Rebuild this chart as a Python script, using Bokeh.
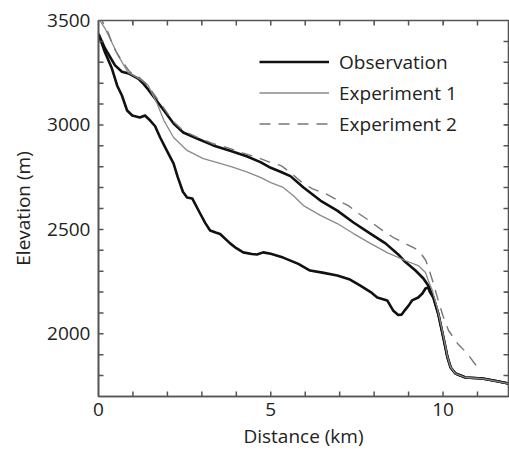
from bokeh.plotting import figure
from bokeh.models import Legend, LegendItem, Range1d, FixedTicker, LinearAxis
from bokeh.embed import file_html
from bokeh.resources import INLINE

# Observation: ice surface (km, m)
obs_x = [0, 0.19, 0.48, 0.68, 0.9, 1.15, 1.3, 1.44, 1.6, 1.9, 2.18, 2.46, 2.86, 3.33, 3.82, 4.3, 4.7,
         5.0, 5.3, 5.57, 5.95, 6.44, 6.93, 7.4, 7.89, 8.33, 8.7, 8.9, 9.2, 9.43, 9.57, 9.72, 9.86,
         10.01, 10.13, 10.22, 10.36, 10.65, 11.14, 11.5, 11.9]
obs_y = [3435, 3366, 3285, 3255, 3245, 3222, 3198, 3170, 3135, 3069, 3007, 2964, 2935, 2902, 2876,
         2850, 2822, 2795, 2775, 2755, 2701, 2638, 2590, 2533, 2480, 2433, 2380, 2345, 2303, 2265,
         2231, 2174, 2097, 1982, 1887, 1839, 1810, 1791, 1786, 1775, 1762]

# Observation: bed
bed_x = [0, 0.19, 0.39, 0.54, 0.68, 0.83, 0.98, 1.2, 1.35, 1.5, 1.64, 1.79, 1.98, 2.18, 2.3, 2.45,
         2.57, 2.72, 2.95, 3.1, 3.24, 3.4, 3.53, 3.82, 4.0, 4.2, 4.45, 4.6, 4.78, 5.0, 5.36, 5.8,
         6.14, 6.5, 6.93, 7.3, 7.6, 7.9, 8.09, 8.38, 8.55, 8.7, 8.8, 8.9, 9.0, 9.1, 9.28, 9.4, 9.49,
         9.57, 9.62, 9.72, 9.86, 10.01, 10.13, 10.22, 10.36, 10.65, 11.14, 11.5, 11.9]
bed_y = [3435, 3347, 3270, 3189, 3141, 3069, 3045, 3036, 3045, 3021, 2995, 2940, 2878, 2815, 2750,
         2680, 2653, 2648, 2576, 2530, 2495, 2485, 2478, 2433, 2410, 2390, 2382, 2380, 2390, 2383,
         2365, 2335, 2303, 2293, 2279, 2260, 2231, 2200, 2174, 2160, 2112, 2090, 2092, 2115, 2135,
         2160, 2174, 2193, 2217, 2222, 2200, 2174, 2097, 1982, 1887, 1839, 1810, 1791, 1786, 1775,
         1762]

# Experiment 1
e1_x = [0, 0.04, 0.19, 0.39, 0.57, 0.86, 1.26, 1.44, 1.7, 1.9, 2.18, 2.57, 3.04, 3.4, 3.85, 4.3,
        4.7, 5.0, 5.36, 5.65, 5.95, 6.44, 6.93, 7.4, 7.89, 8.38, 8.9, 9.28, 9.49, 9.57, 9.69, 9.83,
        10.01, 10.13, 10.22, 10.36, 10.65, 11.14, 11.5, 11.9]
e1_y = [3510, 3500, 3462, 3395, 3332, 3251, 3213, 3190, 3103, 3021, 2940, 2878, 2839, 2822, 2800,
        2775, 2749, 2724, 2701, 2662, 2614, 2567, 2528, 2480, 2433, 2389, 2351, 2327, 2294, 2255,
        2207, 2126, 1990, 1890, 1840, 1810, 1791, 1786, 1775, 1762]

# Experiment 2
e2_x = [0, 0.1, 0.28, 0.43, 0.54, 0.9, 1.12, 1.4, 1.6, 1.9, 2.18, 2.46, 2.86, 3.33, 3.8, 4.2, 4.6,
        5.0, 5.3, 5.6, 5.9, 6.2, 6.6, 6.9, 7.25, 7.55, 7.85, 8.2, 8.56, 8.9, 9.2, 9.4, 9.5, 9.63,
        9.72, 9.86, 10.0, 10.16, 10.42, 10.7, 11.0]
e2_y = [3530, 3500, 3443, 3375, 3342, 3255, 3237, 3195, 3150, 3080, 3015, 2972, 2942, 2910, 2888,
        2865, 2845, 2820, 2805, 2768, 2725, 2695, 2670, 2643, 2614, 2576, 2543, 2500, 2461, 2433,
        2408, 2375, 2351, 2289, 2241, 2160, 2085, 2016, 1954, 1906, 1840]

x_major = [0, 5, 10]
y_major = [2000, 2500, 3000, 3500]
x_ticks_all = list(range(1, 12))
y_ticks_all = list(range(1800, 3500, 100))
labels = ["Observation", "Experiment 1", "Experiment 2"]

X0, X1 = 0, 11.9
Y0, Y1 = 1700, 3500

W, H = 509, 455
BL, BR, BT, BB = 98, 1, 20, 59
FONT = "Open Sans"
TXT = "#222222"
AX = "#555555"

p = figure(width=W, height=H, output_backend="svg", toolbar_location=None,
           x_range=Range1d(X0, X1), y_range=Range1d(Y0, Y1),
           x_axis_label="Distance (km)", y_axis_label="Elevation (m)",
           min_border_left=BL, min_border_right=BR, min_border_top=BT, min_border_bottom=BB)
p.grid.visible = False
p.outline_line_color = AX
p.outline_line_width = 1.6

r_obs = p.line(obs_x, obs_y, line_color="#111111", line_width=2.6, line_join="round")
p.line(bed_x, bed_y, line_color="#111111", line_width=2.6, line_join="round")
r_e1 = p.line(e1_x, e1_y, line_color="#8a8a8a", line_width=1.3)

# inward tick marks on all four sides, 5 px long (converted to data units)
TLX = 5 * (X1 - X0) / (W - BL - BR)
TLY = 5 * (Y1 - Y0) / (H - BT - BB)
nx, ny = len(x_ticks_all), len(y_ticks_all)
p.segment(x0=x_ticks_all, y0=[Y0] * nx, x1=x_ticks_all, y1=[Y0 + TLY] * nx,
          line_color=AX, line_width=1.5)
p.segment(x0=x_ticks_all, y0=[Y1] * nx, x1=x_ticks_all, y1=[Y1 - TLY] * nx,
          line_color=AX, line_width=1.5)
p.segment(x0=[X0] * ny, y0=y_ticks_all, x1=[X0 + TLX] * ny, y1=y_ticks_all,
          line_color=AX, line_width=1.5)
p.segment(x0=[X1] * ny, y0=y_ticks_all, x1=[X1 - TLX] * ny, y1=y_ticks_all,
          line_color=AX, line_width=1.5)

# dashed line drawn last so its dash state cannot leak into other marks
r_e2 = p.line(e2_x, e2_y, line_color="#777777", line_width=1.4, line_dash="11 8")

p.xaxis.ticker = FixedTicker(ticks=x_major, minor_ticks=[])
p.yaxis.ticker = FixedTicker(ticks=y_major, minor_ticks=[])

for ax in p.xaxis + p.yaxis:
    ax.major_tick_in = 0
    ax.major_tick_out = 0
    ax.minor_tick_in = 0
    ax.minor_tick_out = 0
    ax.axis_line_color = AX
    ax.axis_line_width = 1.6
    ax.major_label_text_font = FONT
    ax.major_label_text_font_size = "19px"
    ax.major_label_text_color = TXT
    ax.axis_label_text_font = FONT
    ax.axis_label_text_font_size = "19px"
    ax.axis_label_text_font_style = "normal"
    ax.axis_label_text_color = TXT

p.xaxis.major_label_standoff = 6
p.xaxis.axis_label_standoff = 4
p.yaxis.major_label_standoff = 8
p.yaxis.axis_label_standoff = 8

top = LinearAxis(ticker=FixedTicker(ticks=list(range(0, 13))), major_label_text_font_size="0px",
                 major_label_standoff=0, major_tick_in=4, major_tick_out=0, minor_tick_in=0,
                 minor_tick_out=0, axis_line_color=AX, major_tick_line_color=AX,
                 major_label_text_color=None)
right = LinearAxis(ticker=FixedTicker(ticks=list(range(1700, 3501, 100))),
                   major_label_text_font_size="0px", major_label_standoff=0, major_tick_in=4,
                   major_tick_out=0, minor_tick_in=0, minor_tick_out=0, axis_line_color=AX,
                   major_tick_line_color=AX, major_label_text_color=None)
p.add_layout(top, "above")
p.add_layout(right, "right")

legend = Legend(items=[LegendItem(label=labels[0], renderers=[r_obs]),
                       LegendItem(label=labels[1], renderers=[r_e1]),
                       LegendItem(label=labels[2], renderers=[r_e2])],
                location="top_right", glyph_width=70, glyph_height=31, label_height=31,
                label_width=143, label_standoff=10, spacing=0, padding=0, margin=26,
                border_line_color=None, background_fill_alpha=0,
                label_text_font=FONT, label_text_font_size="19px", label_text_color=TXT)
p.add_layout(legend, "center")

open("out.html", "w").write(file_html(p, INLINE))
